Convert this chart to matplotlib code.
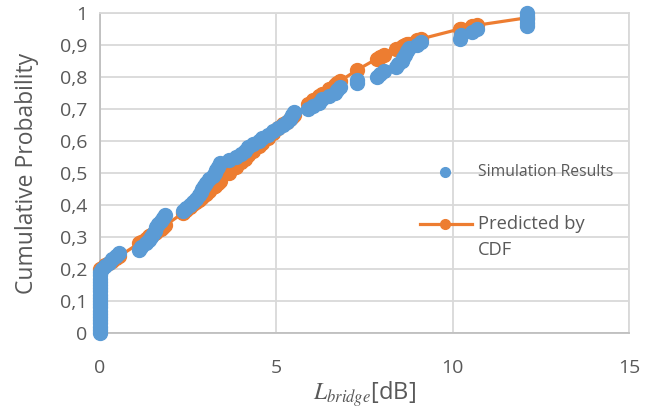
import matplotlib
matplotlib.use("Agg")
import matplotlib.pyplot as plt
from matplotlib.lines import Line2D

plt.rcParams['font.family'] = ['Open Sans', 'DejaVu Sans']
plt.rcParams['mathtext.fontset'] = 'stix'

# simulation results (sorted L_bridge and empirical CDF)
x_sim = [0, 0, 0, 0, 0, 0, 0, 0, 0, 0, 0, 0, 0, 0, 0, 0, 0, 0, 0, 0,
         0.05, 0.15, 0.25, 0.35, 0.45, 0.55,
         1.10, 1.15, 1.30, 1.40, 1.45, 1.50, 1.55, 1.60, 1.65, 1.72, 1.78, 1.85,
         2.35, 2.45, 2.55, 2.65, 2.72, 2.80, 2.85, 2.90, 2.95, 3.00, 3.10, 3.20,
         3.25, 3.30, 3.35, 3.40,
         3.65, 3.85, 4.00, 4.10, 4.20, 4.35, 4.50, 4.60, 4.75, 4.90, 5.05, 5.20,
         5.30, 5.40, 5.45, 5.50,
         5.90, 6.05, 6.20, 6.30, 6.50, 6.65, 6.72, 6.80,
         7.29, 7.29,
         7.85, 7.95, 8.05,
         8.40, 8.45, 8.55, 8.60, 8.65, 8.70, 8.75,
         9.00, 9.10,
         10.20, 10.25, 10.55, 10.70,
         12.10, 12.10, 12.10, 12.10, 12.10]
y_sim = [0.00, 0.01, 0.02, 0.03, 0.04, 0.05, 0.06, 0.07, 0.08, 0.09,
         0.10, 0.11, 0.12, 0.13, 0.14, 0.15, 0.16, 0.17, 0.18, 0.19,
         0.20, 0.21, 0.22, 0.23, 0.24, 0.25,
         0.26, 0.27, 0.28, 0.29, 0.30, 0.31, 0.32, 0.33, 0.34, 0.35, 0.36, 0.37,
         0.38, 0.39, 0.40, 0.41, 0.42, 0.43, 0.44, 0.45, 0.46, 0.47, 0.48, 0.49,
         0.50, 0.51, 0.52, 0.53,
         0.54, 0.55, 0.56, 0.57, 0.58, 0.59, 0.60, 0.61, 0.62, 0.63, 0.64, 0.65,
         0.66, 0.67, 0.68, 0.69,
         0.70, 0.71, 0.72, 0.73, 0.74, 0.75, 0.76, 0.77,
         0.78, 0.79,
         0.80, 0.81, 0.82,
         0.83, 0.84, 0.85, 0.86, 0.87, 0.88, 0.89,
         0.90, 0.91,
         0.92, 0.93, 0.94, 0.95,
         0.96, 0.97, 0.98, 0.99, 1.00]

# predicted by CDF
x_pred = [0.00, 0.05, 0.15, 0.25, 0.35, 0.45, 0.55,
          1.10, 1.15, 1.30, 1.40, 1.45, 1.50, 1.55, 1.60, 1.65, 1.72, 1.78, 1.85,
          2.35, 2.45, 2.55, 2.65, 2.72, 2.80, 2.85, 2.90, 2.95, 3.00, 3.10, 3.20,
          3.25, 3.30, 3.35, 3.40,
          3.65, 3.85, 4.00, 4.10, 4.20, 4.35, 4.50, 4.60, 4.75, 4.90, 5.05, 5.20,
          5.30, 5.40, 5.45, 5.50,
          5.90, 6.05, 6.20, 6.30, 6.50, 6.65, 6.72, 6.80,
          7.29, 7.85, 7.95, 8.05,
          8.40, 8.45, 8.55, 8.60, 8.65, 8.70, 8.75,
          9.00, 9.10, 10.20, 10.25, 10.55, 10.70, 12.10]
y_pred = [0.200, 0.204, 0.211, 0.218, 0.226, 0.233, 0.240,
          0.280, 0.284, 0.295, 0.302, 0.306, 0.310, 0.313, 0.317, 0.321, 0.326, 0.331, 0.336,
          0.375, 0.384, 0.393, 0.403, 0.409, 0.417, 0.421, 0.426, 0.431, 0.435, 0.445, 0.455,
          0.460, 0.465, 0.470, 0.475,
          0.500, 0.520, 0.535, 0.545, 0.555, 0.570, 0.585, 0.595, 0.610, 0.625, 0.640, 0.652,
          0.660, 0.670, 0.675, 0.680,
          0.715, 0.727, 0.740, 0.748, 0.763, 0.775, 0.781, 0.787,
          0.822, 0.857, 0.862, 0.868,
          0.887, 0.889, 0.894, 0.897, 0.899, 0.902, 0.904,
          0.915, 0.919, 0.950, 0.951, 0.958, 0.962, 0.985]

blue = '#5B9BD5'
orange = '#ED7D31'
grey_txt = '#595959'

fig = plt.figure(figsize=(6.68, 4.12), dpi=100)
ax = fig.add_axes([100/668, 79/412, 529/668, 320/412])

ax.plot(x_pred, y_pred, color=orange, lw=2.3, marker='o', ms=10, zorder=3, clip_on=False)
ax.plot(x_sim, y_sim, ls='none', color=blue, marker='o', ms=10, zorder=4, clip_on=False)

ax.set_xlim(0, 15)
ax.set_ylim(0, 1)
ax.set_xticks([0, 5, 10, 15])
ax.set_yticks([i / 10 for i in range(11)])
ax.set_yticklabels(['0'] + ['0,%d' % i for i in range(1, 10)] + ['1'])
ax.grid(True, color='#D9D9D9', lw=1.3)
ax.set_axisbelow(True)
for s in ['top', 'right']:
    ax.spines[s].set_color('#D9D9D9')
    ax.spines[s].set_linewidth(1.3)
for s in ['left', 'bottom']:
    ax.spines[s].set_color('#BFBFBF')
    ax.spines[s].set_linewidth(1.3)
ax.tick_params(length=0, labelsize=14, colors=grey_txt, pad=9)
ax.tick_params(axis='x', pad=19)

ax.set_ylabel('Cumulative Probability', fontsize=16.5, color=grey_txt, labelpad=15)
ax.set_xlabel(r'$L_{bridge}$[dB]', fontsize=17, color=grey_txt, labelpad=1)

# legend drawn by hand (no frame, like the Excel original)
fig.add_artist(Line2D([445/668], [1 - 172/412], marker='o', ms=7, color=blue, ls='none'))
fig.text(478/668, 1 - 172/412, 'Simulation Results', fontsize=11.3, color=grey_txt, va='center')
fig.add_artist(Line2D([420/668, 472/668], [1 - 224/412] * 2, color=orange, lw=2.3))
fig.add_artist(Line2D([445/668], [1 - 224/412], marker='o', ms=7, color=orange, ls='none'))
fig.text(478/668, 1 - 224/412, 'Predicted by', fontsize=13.2, color=grey_txt, va='center')
fig.text(478/668, 1 - 250/412, 'CDF', fontsize=13.2, color=grey_txt, va='center')

plt.savefig('out.png', dpi=100)
